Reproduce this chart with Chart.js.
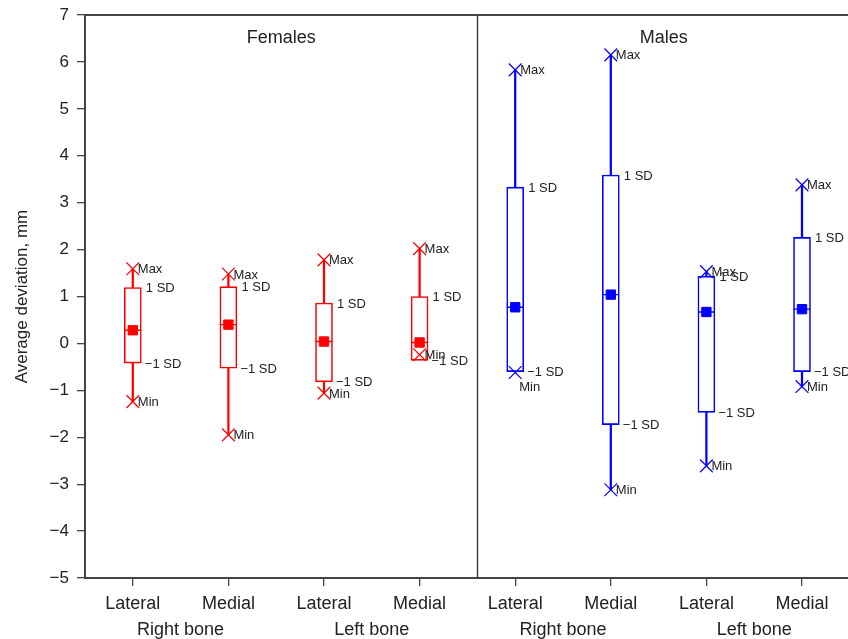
<!DOCTYPE html>
<html>
<head>
<meta charset="utf-8">
<script src="https://cdn.jsdelivr.net/npm/chart.js@4/dist/chart.umd.min.js"></script>
<style>
  html, body { margin: 0; padding: 0; overflow: hidden; background: #fff; }
  canvas { display: block; }
</style>
</head>
<body>
<canvas id="chart" width="860" height="639"></canvas>
<script>
// Deviation summary per bone surface: mean, ±1 SD and range
const positions   = ['Lateral', 'Medial', 'Lateral', 'Medial', 'Lateral', 'Medial', 'Lateral', 'Medial'];
const bones       = ['Right bone', 'Left bone', 'Right bone', 'Left bone'];
const panels      = ['Females', 'Males'];
const panelOf     = [0, 0, 0, 0, 1, 1, 1, 1];
const maxValues   = [1.59, 1.48, 1.78, 2.02, 5.83, 6.15, 1.53, 3.38];
const sdHigh      = [1.19, 1.21, 0.86, 1.00, 3.33, 3.59, 1.43, 2.26];
const means       = [0.28, 0.40, 0.04, 0.02, 0.77, 1.04, 0.67, 0.73];
const sdLow       = [-0.42, -0.53, -0.82, -0.36, -0.60, -1.73, -1.47, -0.60];
const minValues   = [-1.24, -1.95, -1.06, -0.24, -0.62, -3.12, -2.61, -0.92];
const yTickValues = [-5, -4, -3, -2, -1, 0, 1, 2, 3, 4, 5, 6, 7];
const yTickLabels = ['−5', '−4', '−3', '−2', '−1', '0', '1', '2', '3', '4', '5', '6', '7'];

const panelColors = ['#ff0000', '#0000ff'];
const panelSplit = 4.6;          // x position of the line between the two panels
const FONT = '"Liberation Sans", Arial, Helvetica, sans-serif';
const TEXT = '#222';
const AXIS = '#444';

const xs = positions.map((_, i) => i + 1);
const colors = panelOf.map(p => panelColors[p]);

Chart.defaults.font.family = FONT;
Chart.defaults.color = TEXT;

const labelsPlugin = {
  id: 'boxLabels',
  afterDatasetsDraw(chart) {
    const { ctx, chartArea: a, scales: { x, y } } = chart;
    ctx.save();

    // top frame line and panel divider
    ctx.strokeStyle = AXIS;
    ctx.lineWidth = 2;
    ctx.beginPath();
    ctx.moveTo(a.left - 1, a.top);
    ctx.lineTo(a.right, a.top);
    ctx.stroke();
    const sx = Math.round(x.getPixelForValue(panelSplit)) + 0.5;
    ctx.strokeStyle = '#333';
    ctx.lineWidth = 1.3;
    ctx.beginPath();
    ctx.moveTo(sx, a.top);
    ctx.lineTo(sx, a.bottom);
    ctx.stroke();

    // panel titles
    ctx.fillStyle = TEXT;
    ctx.font = '18px ' + FONT;
    ctx.textAlign = 'center';
    ctx.textBaseline = 'middle';
    ctx.fillText(panels[0], (a.left + sx) / 2, a.top + 23);
    ctx.fillText(panels[1], (sx + a.right) / 2, a.top + 23);

    // bone group labels under the position labels
    bones.forEach((b, k) => {
      const cx = (x.getPixelForValue(xs[2 * k]) + x.getPixelForValue(xs[2 * k + 1])) / 2;
      ctx.fillText(b, cx, a.bottom + 52);
    });

    // Max / SD / Min annotations
    ctx.font = '13px ' + FONT;
    ctx.textAlign = 'left';
    xs.forEach((v, i) => {
      const px = x.getPixelForValue(v);
      ctx.fillText('Max', px + 5, y.getPixelForValue(maxValues[i]) + 1);
      ctx.fillText('1 SD', px + 13, y.getPixelForValue(sdHigh[i]) + 1);
      ctx.fillText('−1 SD', px + 12, y.getPixelForValue(sdLow[i]) + 1);
      const nearSd = Math.abs(minValues[i] - sdLow[i]) < 0.1;
      ctx.fillText('Min', px + (nearSd ? 4 : 5), y.getPixelForValue(minValues[i]) + (nearSd ? 15 : 1));
    });
    ctx.restore();
  }
};

const pts = vals => xs.map((v, i) => ({ x: v, y: vals[i] }));

new Chart(document.getElementById('chart'), {
  type: 'bar',
  data: {
    datasets: [
      {
        label: 'Range',
        data: xs.map((v, i) => ({ x: v, y: [minValues[i], maxValues[i]] })),
        backgroundColor: colors,
        borderWidth: 0,
        barThickness: 1.6,
        grouped: false,
        order: 6
      },
      {
        label: '±1 SD',
        data: xs.map((v, i) => ({ x: v, y: [sdLow[i], sdHigh[i]] })),
        backgroundColor: '#ffffff',
        borderColor: colors,
        borderWidth: 1.6,
        borderSkipped: false,
        barThickness: 17,
        grouped: false,
        order: 5
      },
      {
        type: 'scatter',
        label: 'Mean line',
        data: pts(means),
        pointStyle: 'line',
        pointRadius: 8.5,
        borderColor: colors,
        pointBorderWidth: 1.4,
        order: 4
      },
      {
        type: 'scatter',
        label: 'Mean',
        data: pts(means),
        pointStyle: 'rect',
        pointRadius: 6.6,
        backgroundColor: colors,
        borderColor: colors,
        pointBorderWidth: 1,
        order: 3
      },
      {
        type: 'scatter',
        label: 'Max',
        data: pts(maxValues),
        pointStyle: 'crossRot',
        pointRadius: 9,
        borderColor: colors,
        pointBorderWidth: 1.2,
        order: 2
      },
      {
        type: 'scatter',
        label: 'Min',
        data: pts(minValues),
        pointStyle: 'crossRot',
        pointRadius: 9,
        borderColor: colors,
        pointBorderWidth: 1.2,
        order: 1
      }
    ]
  },
  options: {
    responsive: false,
    animation: false,
    events: [],
    layout: { padding: { top: 15, right: 8, bottom: 0, left: 0 } },
    plugins: { legend: { display: false }, tooltip: { enabled: false } },
    scales: {
      x: {
        type: 'linear',
        min: 0.5,
        max: 8.5,
        offset: false,
        afterBuildTicks: s => { s.ticks = xs.map(v => ({ value: v })); },
        afterFit: s => { s.height = 61; s.paddingLeft = 0; s.paddingRight = 0; },
        border: { display: true, color: AXIS, width: 2 },
        grid: { offset: false, drawOnChartArea: false, drawTicks: true, tickLength: 8, color: AXIS, lineWidth: 1.3 },
        ticks: {
          autoSkip: false,
          maxRotation: 0,
          padding: 7,
          color: TEXT,
          font: { size: 18 },
          callback: v => positions[v - 1]
        }
      },
      y: {
        min: -5,
        max: 7,
        afterBuildTicks: s => { s.ticks = yTickValues.map(v => ({ value: v })); },
        afterFit: s => { s.width = 85; s.paddingTop = 0; s.paddingBottom = 0; },
        border: { display: true, color: AXIS, width: 2 },
        grid: { drawOnChartArea: false, drawTicks: true, tickLength: 8, color: AXIS, lineWidth: 1.3 },
        ticks: {
          padding: 8,
          color: TEXT,
          font: { size: 17 },
          callback: v => yTickLabels[yTickValues.indexOf(v)]
        },
        title: {
          display: true,
          text: 'Average deviation, mm',
          color: TEXT,
          font: { size: 17 },
          padding: { top: 12, bottom: 0 }
        }
      }
    }
  },
  plugins: [labelsPlugin]
});
</script>
</body>
</html>
